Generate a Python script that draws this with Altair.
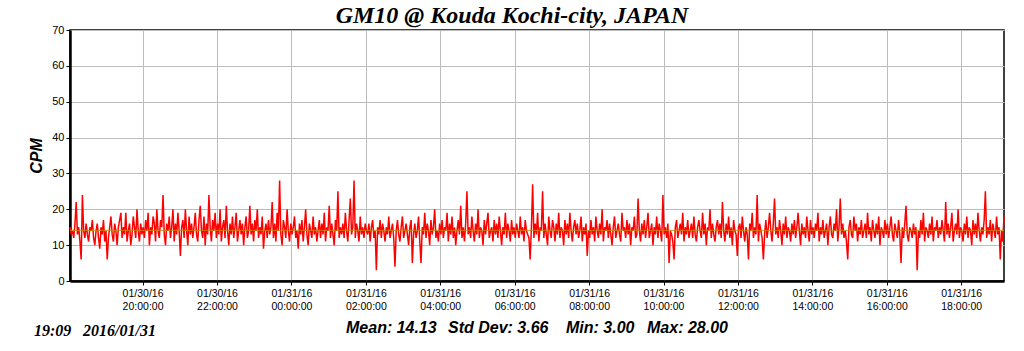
import altair as alt
import pandas as pd

TITLE = "GM10 @ Kouda Kochi-city, JAPAN"
STAMP_TIME = "19:09"
STAMP_DATE = "2016/01/31"
STAT_TEXTS = ["Mean: 14.13", "Std Dev: 3.66", "Min: 3.00", "Max: 28.00"]
Y_LABEL = "CPM"
START = "2016-01-30T18:03:00Z"
END = "2016-01-31T19:09:00Z"
STEP_MIN = 2
MEAN = 14.13
TICK_TIMES = ["2016-01-30T20:00:00Z", "2016-01-30T22:00:00Z", "2016-01-31T00:00:00Z",
              "2016-01-31T02:00:00Z", "2016-01-31T04:00:00Z", "2016-01-31T06:00:00Z",
              "2016-01-31T08:00:00Z", "2016-01-31T10:00:00Z", "2016-01-31T12:00:00Z",
              "2016-01-31T14:00:00Z", "2016-01-31T16:00:00Z", "2016-01-31T18:00:00Z"]
Y_TICKS = [0, 10, 20, 30, 40, 50, 60, 70]

cpm = [
    15,13,14,12,16,22,13,15,11,6,24,14,12,16,13,11,15,14,17,12,
    10,14,16,12,9,15,13,17,11,14,6,12,15,18,13,11,16,14,10,15,
    17,19,12,15,13,19,11,14,16,10,13,18,15,12,20,14,11,16,13,15,
    12,17,14,19,10,15,13,18,16,11,20,14,12,17,15,24,13,10,16,14,
    18,12,15,20,11,16,13,19,14,7,15,17,12,20,14,10,18,13,16,12,
    15,19,13,11,17,21,14,12,18,10,16,13,24,15,11,17,14,19,12,16,
    13,20,11,15,17,12,21,14,10,16,13,18,12,15,19,11,14,17,13,16,
    10,15,18,12,14,21,13,16,11,17,14,20,12,15,13,18,9,14,16,12,
    17,13,15,22,12,16,11,19,14,28,13,10,17,15,12,20,14,11,16,13,
    15,18,12,14,9,16,13,17,11,15,20,13,10,16,14,12,18,13,15,11,
    14,17,12,16,13,19,11,15,14,21,12,16,13,10,17,14,25,12,15,13,
    16,12,19,14,11,17,23,13,15,28,12,16,14,11,18,13,15,12,16,14,
    13,16,11,15,17,12,14,3,15,13,17,12,16,14,11,15,13,18,12,14,
    16,12,4,14,17,13,11,15,18,12,14,16,13,10,15,17,5,13,16,12,
    14,18,11,5,15,13,19,12,16,14,10,17,13,15,20,12,14,11,16,13,
    17,12,15,14,19,11,16,13,18,12,15,10,14,17,13,21,12,15,11,16,
    25,13,15,12,18,14,11,16,13,20,12,15,14,10,17,13,16,19,12,14,
    15,11,17,13,16,12,18,14,10,15,13,19,12,16,14,11,17,13,15,12,
    16,14,12,18,13,15,11,17,14,13,12,6,15,27,12,16,13,19,11,15,
    14,25,12,16,13,10,18,14,12,17,15,11,16,13,19,12,15,14,10,17,
    13,16,12,19,14,11,15,17,13,16,12,14,18,11,15,13,16,7,14,12,
    17,13,15,11,18,14,12,16,13,20,11,15,14,17,12,16,13,10,15,18,
    12,14,16,13,11,19,14,15,12,17,13,16,10,15,14,18,12,13,23,14,
    11,16,13,17,12,15,19,12,14,16,10,15,13,18,12,16,14,11,24,13,
    15,12,16,5,14,13,11,6,15,17,12,14,16,13,19,11,15,13,17,12,
    14,16,12,18,13,11,15,17,14,12,19,13,16,10,15,14,20,12,16,13,
    11,15,17,13,16,12,22,14,11,16,13,18,12,15,10,17,14,13,7,15,
    16,12,18,14,11,15,13,6,16,14,19,12,15,13,24,11,16,14,12,6,
    13,17,12,15,19,14,11,16,23,13,15,12,17,14,10,16,13,18,12,15,
    14,11,16,13,17,12,15,19,14,10,16,13,15,12,18,14,11,17,13,15,
    12,16,14,19,11,15,13,17,12,14,16,10,15,18,13,12,16,14,20,11,
    15,23,13,16,12,14,11,6,15,17,13,12,18,14,16,11,15,13,17,12,
    14,16,12,19,13,15,11,17,14,12,16,13,18,10,15,14,12,17,13,16,
    12,15,18,13,11,16,14,12,17,13,5,15,12,16,21,13,11,15,14,12,
    16,13,15,3,14,12,17,13,19,11,15,14,12,16,13,18,11,15,14,17,
    12,15,13,17,14,11,22,13,16,12,15,19,11,14,16,13,20,12,15,14,
    11,16,13,18,12,15,14,10,17,13,16,12,19,14,11,15,13,17,25,12,
    15,13,17,11,16,14,12,18,13,15,6,14,11,18,
]

times = pd.date_range(START, periods=len(cpm), freq=f"{STEP_MIN}min")
df = pd.DataFrame({"time": times.strftime("%Y-%m-%dT%H:%M:%SZ"), "cpm": cpm})

tick_ms = [int(pd.Timestamp(t).value // 10**6) for t in TICK_TIMES]
x_dom = [int(pd.Timestamp(START).value // 10**6), int(pd.Timestamp(END).value // 10**6)]

W, H = 934, 251

x_enc = alt.X(
    "time:T",
    scale=alt.Scale(type="utc", domain=x_dom, nice=False),
    axis=alt.Axis(
        values=tick_ms,
        title=None,
        labelExpr="[utcFormat(datum.value, '%m/%d/%y'), utcFormat(datum.value, '%H:%M:%S')]",
        labelFont="Liberation Sans", labelFontSize=10.5, labelColor="#000000",
        labelPadding=3, labelLineHeight=13,
        tickSize=4, tickColor="#000000", tickWidth=1,
        domainColor="#000000", domainWidth=2.5,
        grid=True, gridColor="#bcbcbc", gridWidth=1,
        labelOverlap=False, labelFlush=False,
    ),
)
y_axis = alt.Axis(
    values=Y_TICKS, title=None,
    labelFont="Liberation Sans", labelFontSize=11, labelColor="#000000",
    labelPadding=2, labelOverlap=False, labelFlush=False, labelBound=False,
    tickSize=4, tickColor="#000000", tickWidth=1,
    domainColor="#000000", domainWidth=2.5,
    grid=True, gridColor="#bcbcbc", gridWidth=1,
)
y_scale = alt.Scale(domain=[0, 70], nice=False)

line = alt.Chart(df).mark_line(color="#ff0000", strokeWidth=1.5, interpolate="linear").encode(
    x=x_enc, y=alt.Y("cpm:Q", scale=y_scale, axis=y_axis)
)

mean_df = pd.DataFrame({"cpm": [MEAN]})
mean_rule = alt.Chart(mean_df).mark_rule(color="#c08a00", strokeWidth=1, opacity=0.85).encode(
    y=alt.Y("cpm:Q", scale=y_scale, axis=y_axis)
)


def label(text, x, y, font, size, align="left", angle=None):
    kw = dict(font=font, fontSize=size, fontStyle="italic", fontWeight="bold",
              align=align, baseline="alphabetic", color="#000000")
    if angle is not None:
        kw["angle"] = angle
        kw["baseline"] = "middle"
    return alt.Chart(pd.DataFrame({"t": [text]})).mark_text(**kw).encode(
        x=alt.value(x), y=alt.value(y), text="t:N")


layers = [line, mean_rule,
          label(TITLE, 442, -7, "Liberation Serif", 24, align="center"),
          label(Y_LABEL, -33, 126, "Liberation Sans", 16, align="center", angle=270),
          label(STAMP_TIME, -36, 306, "Liberation Serif", 16),
          label(STAMP_DATE, 13, 306, "Liberation Serif", 16)]
stat_x = [276, 378, 496, 577]
for txt, sx in zip(STAT_TEXTS, stat_x):
    layers.append(label(txt, sx, 303, "Liberation Sans", 16))

chart = alt.layer(*layers).properties(
    width=W, height=H,
    autosize=alt.AutoSizeParams(type="none"),
    padding={"left": 70, "top": 30, "right": 20, "bottom": 70},
    background="#ffffff",
).configure_view(stroke="#000000", strokeWidth=1.5)

chart.save("out.html", embed_options={"renderer": "svg", "actions": False})
